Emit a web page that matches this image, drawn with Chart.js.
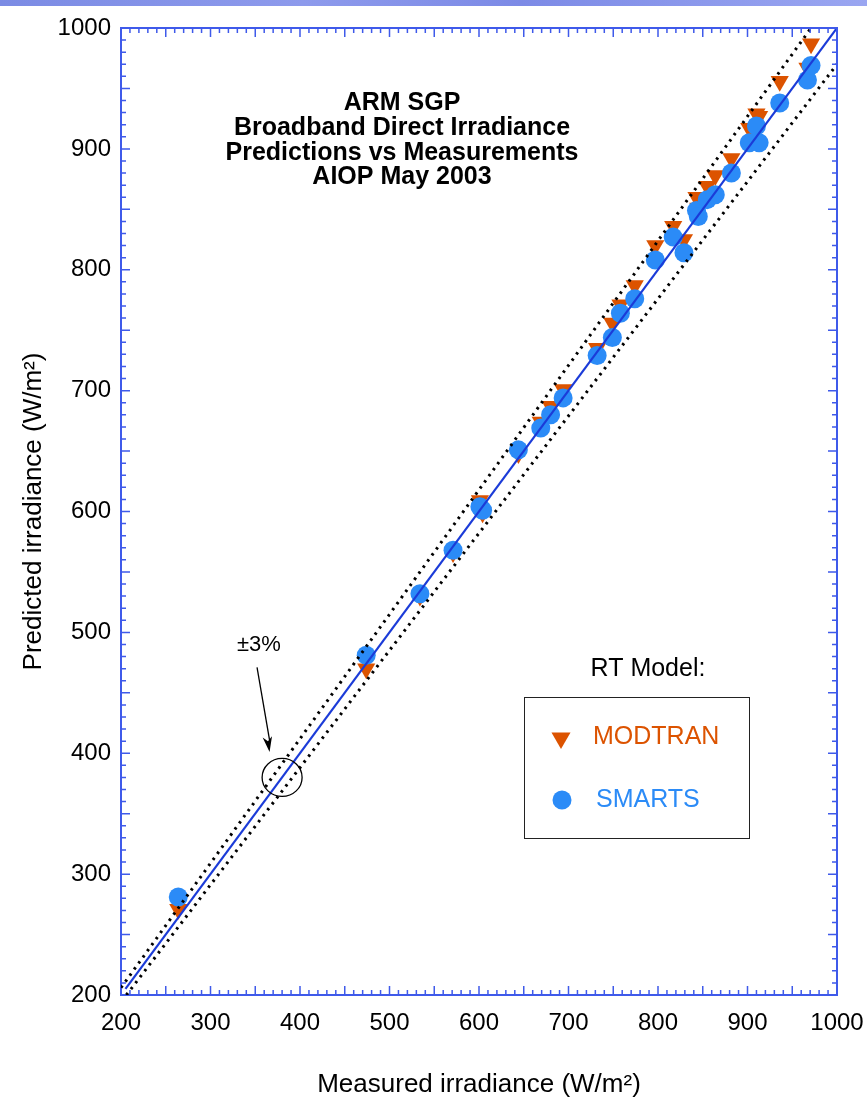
<!DOCTYPE html>
<html>
<head>
<meta charset="utf-8">
<script src="https://cdn.jsdelivr.net/npm/chart.js@4.4.0/dist/chart.umd.min.js"></script>
<style>
  html, body { margin: 0; padding: 0; background: #fff; }
  #wrap { position: absolute; left: 0; top: 0; width: 867px; height: 1097px; }
  #topbar { position: absolute; left: 0; top: 0; width: 867px; height: 6px;
    background: linear-gradient(to right, #7b8be4, #8d9aec 35%, #7c8ae6 60%, #9aa6f1); }
</style>
</head>
<body>
<div id="wrap"><canvas id="irradianceChart"></canvas></div>
<div id="topbar"></div>
<script>
// measured irradiance (W/m2), shared by both models
const measured = [264, 474, 534, 571, 601, 604, 644, 669, 680, 694, 732, 749, 758, 774, 797, 817, 829, 843, 845, 855, 864, 882, 902, 910, 913, 936, 967, 971];
// predicted irradiance
const modtran = [271, 470, 530, 566, 609, 599, 648, 674, 687, 701, 735, 756, 771, 787, 820, 836, 825, 860, 851, 869, 878, 892, 917, 929, 927, 956, 967, 987];
const smarts = [281, 481, 532, 568, 604, 601, 651, 669, 680, 694, 729, 744, 764, 776, 808, 827, 814, 849, 844, 858, 862, 880, 905, 919, 905, 938, 957, 969];

// 1:1 line and the +/-3% band
const oneToOneX = [205, 1000];
const oneToOneY = [205, 1000];
const upperX = [200, 971];
const upperY = [206, 1000];
const lowerX = [206, 1000];
const lowerY = [200, 970];

const tickValues = [200, 300, 400, 500, 600, 700, 800, 900, 1000];
const titleLines = ["ARM SGP", "Broadband Direct Irradiance", "Predictions vs Measurements", "AIOP May 2003"];

const FONT = "'Liberation Sans', Arial, Helvetica, sans-serif";
const frameBlue = "#3f5aea";
const lineBlue = "#1b3bd8";
const orange = "#dc5300";
const lightBlue = "#2b8bf7";

function toPoints(xs, ys) {
  return xs.map((x, i) => ({ x: x, y: ys[i] }));
}

function drawTriangle(ctx, x, y, r) {
  ctx.beginPath();
  ctx.moveTo(x, y + r);
  ctx.lineTo(x - r * 0.866, y - r / 2);
  ctx.lineTo(x + r * 0.866, y - r / 2);
  ctx.closePath();
  ctx.fill();
}

const framePlugin = {
  id: "frame",
  afterDraw(chart) {
    const ctx = chart.ctx;
    const a = chart.chartArea;
    const xs = chart.scales.x;
    const ys = chart.scales.y;
    ctx.save();

    // top and right sides of the box
    ctx.strokeStyle = frameBlue;
    ctx.lineWidth = 2;
    ctx.beginPath();
    ctx.moveTo(a.left, a.top);
    ctx.lineTo(a.right, a.top);
    ctx.lineTo(a.right, a.bottom);
    ctx.stroke();

    // inward ticks on all four sides
    ctx.lineWidth = 1.5;
    for (let v = 210; v < 1000; v += 10) {
      const len = v % 50 === 0 ? 9 : 5;
      const px = xs.getPixelForValue(v);
      const py = ys.getPixelForValue(v);
      ctx.beginPath();
      ctx.moveTo(px, a.bottom); ctx.lineTo(px, a.bottom - len);
      ctx.moveTo(px, a.top); ctx.lineTo(px, a.top + len);
      ctx.moveTo(a.left, py); ctx.lineTo(a.left + len, py);
      ctx.moveTo(a.right, py); ctx.lineTo(a.right - len, py);
      ctx.stroke();
    }

    // title block
    ctx.fillStyle = "#000";
    ctx.font = "bold 25px " + FONT;
    ctx.textAlign = "center";
    ctx.textBaseline = "middle";
    titleLines.forEach((t, i) => ctx.fillText(t, 402, 103.5 + i * 24.6));

    // +/-3% annotation
    ctx.font = "22px " + FONT;
    ctx.fillText("\u00b13%", xs.getPixelForValue(354), ys.getPixelForValue(490));
    const ex = xs.getPixelForValue(380);
    const ey = ys.getPixelForValue(380);
    ctx.strokeStyle = "#000";
    ctx.lineWidth = 1.3;
    ctx.beginPath();
    ctx.ellipse(ex, ey, 20, 19, 0, 0, Math.PI * 2);
    ctx.stroke();
    const ax0 = xs.getPixelForValue(352), ay0 = ys.getPixelForValue(471);
    const ax1 = xs.getPixelForValue(366), ay1 = ys.getPixelForValue(401);
    ctx.beginPath();
    ctx.moveTo(ax0, ay0);
    ctx.lineTo(ax1, ay1 - 12);
    ctx.stroke();
    const ang = Math.atan2(ay1 - ay0, ax1 - ax0);
    ctx.fillStyle = "#000";
    ctx.beginPath();
    ctx.moveTo(ax1, ay1);
    ctx.lineTo(ax1 - 16 * Math.cos(ang - 0.3), ay1 - 16 * Math.sin(ang - 0.3));
    ctx.lineTo(ax1 - 11 * Math.cos(ang), ay1 - 11 * Math.sin(ang));
    ctx.lineTo(ax1 - 16 * Math.cos(ang + 0.3), ay1 - 16 * Math.sin(ang + 0.3));
    ctx.closePath();
    ctx.fill();

    // legend
    ctx.font = "25px " + FONT;
    ctx.fillStyle = "#000";
    ctx.fillText("RT Model:", 648, 669);
    ctx.strokeStyle = "#222";
    ctx.lineWidth = 1;
    ctx.strokeRect(524.5, 697.5, 225, 141);
    ctx.textAlign = "left";
    ctx.fillStyle = orange;
    drawTriangle(ctx, 561, 738, 11);
    ctx.fillText("MODTRAN", 593, 737);
    ctx.fillStyle = lightBlue;
    ctx.beginPath();
    ctx.arc(562, 800, 9.5, 0, Math.PI * 2);
    ctx.fill();
    ctx.fillText("SMARTS", 596, 800);

    ctx.restore();
  }
};

const axisFont = { family: FONT, size: 24 };
const titleFont = { family: FONT, size: 26 };

new Chart(document.getElementById("irradianceChart").getContext("2d"), {
  type: "scatter",
  data: {
    datasets: [
      {
        label: "1:1",
        type: "line",
        data: toPoints(oneToOneX, oneToOneY),
        borderColor: lineBlue,
        borderWidth: 2.2,
        pointRadius: 0,
        showLine: true,
        order: 0,
      },
      {
        label: "+3%",
        type: "line",
        data: toPoints(upperX, upperY),
        borderColor: "#000",
        borderWidth: 3,
        borderDash: [2.5, 5],
        pointRadius: 0,
        showLine: true,
        order: 0,
      },
      {
        label: "-3%",
        type: "line",
        data: toPoints(lowerX, lowerY),
        borderColor: "#000",
        borderWidth: 3,
        borderDash: [2.5, 5],
        pointRadius: 0,
        showLine: true,
        order: 0,
      },
      {
        label: "SMARTS",
        data: toPoints(measured, smarts),
        pointStyle: "circle",
        pointRadius: 9.5,
        pointBackgroundColor: lightBlue,
        pointBorderColor: lightBlue,
        pointBorderWidth: 0,
        order: 1,
      },
      {
        label: "MODTRAN",
        data: toPoints(measured, modtran),
        pointStyle: "triangle",
        pointRotation: 180,
        pointRadius: 10.5,
        pointBackgroundColor: orange,
        pointBorderColor: orange,
        pointBorderWidth: 0,
        order: 2,
      },
    ],
  },
  options: {
    responsive: true,
    maintainAspectRatio: false,
    animation: false,
    layout: { padding: { top: 28, right: 30, left: 0, bottom: 0 } },
    plugins: { legend: { display: false }, tooltip: { enabled: false } },
    scales: {
      x: {
        type: "linear",
        min: 200,
        max: 1000,
        afterFit: (s) => { s.height = 102; s.paddingLeft = 0; s.paddingRight = 0; },
        afterBuildTicks: (s) => { s.ticks = tickValues.map((v) => ({ value: v })); },
        grid: { display: false, drawTicks: false },
        border: { display: true, color: frameBlue, width: 2 },
        ticks: { font: axisFont, color: "#000", padding: 14, maxRotation: 0, autoSkip: false, callback: (v) => String(v) },
        title: { display: true, text: "Measured irradiance (W/m\u00b2)", font: titleFont, color: "#000", padding: { top: 0, bottom: -3 } },
      },
      y: {
        type: "linear",
        min: 200,
        max: 1000,
        afterFit: (s) => { s.width = 121; s.paddingTop = 0; s.paddingBottom = 0; },
        afterBuildTicks: (s) => { s.ticks = tickValues.map((v) => ({ value: v })); },
        grid: { display: false, drawTicks: false },
        border: { display: true, color: frameBlue, width: 2 },
        ticks: { font: axisFont, color: "#000", padding: 10, autoSkip: false, callback: (v) => String(v) },
        title: { display: true, text: "Predicted irradiance (W/m\u00b2)", font: titleFont, color: "#000", padding: { top: 18, bottom: 0 } },
      },
    },
  },
  plugins: [framePlugin],
});
</script>
</body>
</html>
